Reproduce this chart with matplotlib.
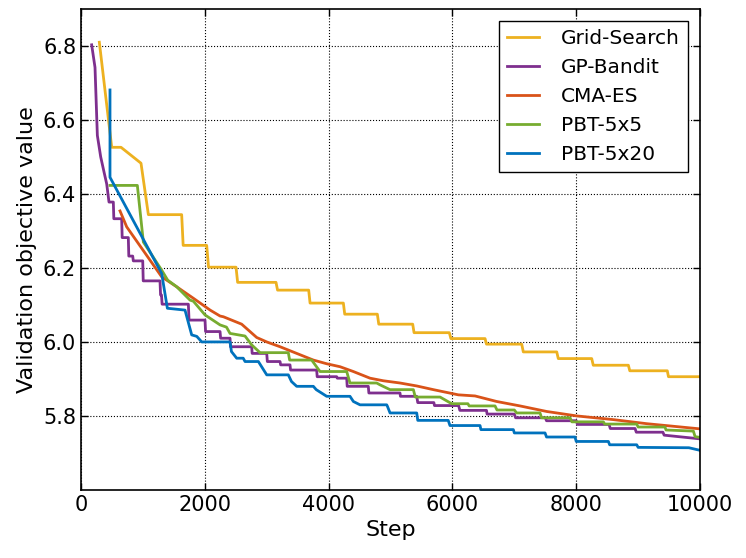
import matplotlib
matplotlib.use("Agg")
import matplotlib.pyplot as plt

# values (steps are given as repeated x)
grid_x = [296, 496, 646, 969, 1088, 1626, 1650, 2030, 2060, 2504, 2530, 3150, 3175,
          3678, 3700, 4238, 4260, 4787, 4810, 5358, 5380, 5950, 5975, 6527, 6550,
          7119, 7145, 7685, 7710, 8250, 8275, 8842, 8865, 9471, 9490, 10000]
grid_y = [6.81, 6.526, 6.526, 6.483, 6.344, 6.344, 6.261, 6.261, 6.202, 6.202, 6.161,
          6.161, 6.140, 6.140, 6.105, 6.105, 6.075, 6.075, 6.048, 6.048, 6.025,
          6.025, 6.009, 6.009, 5.994, 5.994, 5.973, 5.973, 5.955, 5.955, 5.937,
          5.937, 5.922, 5.922, 5.906, 5.906]

gp_x = [172, 226, 264, 318, 372, 415, 452,
        522, 530, 657, 665, 764, 772, 835, 845, 997, 1005,
        1276, 1285, 1300, 1310, 1734, 1745, 2003, 2012, 2246, 2255,
        2407, 2415, 2757, 2765, 3000, 3010, 3215, 3225, 3376, 3385,
        3807, 3815, 4130, 4140, 4292, 4300, 4641, 4650, 5153, 5160,
        5423, 5440, 5700, 5710, 6100, 6120, 6550, 6560, 7000, 7020,
        7500, 7520, 8000, 8020, 8530, 8550, 8950, 8970, 9400, 9420,
        10000]
gp_y = [6.803, 6.742, 6.558, 6.50, 6.459, 6.427, 6.378,
        6.378, 6.333, 6.333, 6.282, 6.282, 6.232, 6.232, 6.219, 6.219, 6.165,
        6.165, 6.127, 6.127, 6.102, 6.102, 6.059, 6.059, 6.028, 6.028, 6.010,
        6.010, 5.987, 5.987, 5.969, 5.969, 5.947, 5.947, 5.938, 5.938, 5.924,
        5.924, 5.906, 5.906, 5.902, 5.902, 5.880, 5.880, 5.862, 5.862, 5.853,
        5.853, 5.836, 5.836, 5.828, 5.828, 5.815, 5.815, 5.805, 5.805, 5.795,
        5.795, 5.787, 5.787, 5.777, 5.777, 5.766, 5.766, 5.756, 5.756, 5.748,
        5.738]

cma_x = [630, 738, 1303, 1546, 1815, 2086, 2246, 2300, 2595, 2838, 3000, 3215, 3484,
         3753, 3969, 4184, 4399, 4669, 4884, 5153, 5423, 5692, 6095, 6365, 6715,
         7092, 7523, 8008, 8600, 9139, 10000]
cma_y = [6.354, 6.311, 6.176, 6.149, 6.118, 6.086, 6.070, 6.068, 6.048, 6.012, 6.0,
         5.987, 5.969, 5.951, 5.941, 5.933, 5.920, 5.902, 5.895, 5.889, 5.881,
         5.871, 5.857, 5.854, 5.839, 5.827, 5.812, 5.800, 5.790, 5.779, 5.765]

pbt5_x = [468, 910, 1007, 1303, 1400, 1546, 1761, 1815, 2003, 2246, 2350, 2407,
          2649, 2757, 2892, 3000, 3349, 3370, 3726, 3861, 4292, 4345, 4776, 4830,
          4992, 5369, 5400, 5800, 5988, 6250, 6270, 6688, 6720, 7000, 7038, 7415,
          7440, 7900, 7930, 8438, 8460, 8977, 9000, 9434, 9450, 9892, 9920, 10000]
pbt5_y = [6.423, 6.423, 6.27, 6.194, 6.167, 6.149, 6.113, 6.110, 6.073, 6.046,
          6.040, 6.023, 6.016, 5.992, 5.971, 5.971, 5.971, 5.951, 5.951, 5.920,
          5.920, 5.889, 5.889, 5.884, 5.871, 5.871, 5.851, 5.851, 5.833, 5.833,
          5.827, 5.827, 5.816, 5.816, 5.808, 5.808, 5.795, 5.795, 5.784, 5.784,
          5.778, 5.778, 5.770, 5.770, 5.762, 5.759, 5.744, 5.742]

pbt20_x = [468, 468, 1303, 1395, 1680, 1788, 1870, 1950, 2407, 2430, 2515, 2620,
           2650, 2865, 3000, 3349, 3400, 3484, 3753, 3800, 3969, 4345, 4400, 4507,
           4938, 4950, 4992, 5423, 5440, 5932, 5960, 6446, 6460, 6984, 7000, 7496,
           7520, 7980, 8000, 8519, 8540, 8977, 9000, 9820, 10000]
pbt20_y = [6.681, 6.445, 6.185, 6.091, 6.086, 6.019, 6.015, 6.0, 6.0, 5.974,
           5.956, 5.956, 5.947, 5.947, 5.911, 5.911, 5.893, 5.880, 5.880, 5.871,
           5.853, 5.853, 5.839, 5.830, 5.830, 5.826, 5.808, 5.808, 5.788, 5.788,
           5.774, 5.774, 5.763, 5.763, 5.754, 5.754, 5.743, 5.743, 5.731, 5.731,
           5.722, 5.722, 5.715, 5.714, 5.707]

names = ["Grid-Search", "GP-Bandit", "CMA-ES", "PBT-5x5", "PBT-5x20"]
colors = ["#EDB120", "#7E2F8E", "#D95319", "#77AC30", "#0072BD"]

plt.rcParams["xtick.direction"] = "in"
plt.rcParams["ytick.direction"] = "in"
plt.rcParams["xtick.top"] = True
plt.rcParams["ytick.right"] = True

fig = plt.figure(figsize=(7.46, 5.58), dpi=100)
ax = fig.add_axes([0.1086, 0.122, 0.8298, 0.862])

series = [(grid_x, grid_y), (gp_x, gp_y), (cma_x, cma_y), (pbt5_x, pbt5_y), (pbt20_x, pbt20_y)]
for (xs, ys), name, c in zip(series, names, colors):
    ax.plot(xs, ys, color=c, lw=2, label=name)

ax.set_xlim(0, 10000)
ax.set_ylim(5.6, 6.9)
ax.set_xticks([0, 2000, 4000, 6000, 8000, 10000])
ax.set_yticks([5.8, 6.0, 6.2, 6.4, 6.6, 6.8])
ax.grid(True, color="black", ls=":", lw=0.8)
ax.tick_params(labelsize=15, length=5, width=1)
for s in ax.spines.values():
    s.set_linewidth(1.2)
ax.set_xlabel("Step", fontsize=16)
ax.set_ylabel("Validation objective value", fontsize=16)

leg = ax.legend(loc="upper right", fontsize=14.5, fancybox=False, framealpha=1,
                edgecolor="black", borderaxespad=0.6, handlelength=1.6,
                handletextpad=1.1, labelspacing=0.5)
leg.get_frame().set_linewidth(1.0)

fig.savefig("out.png", dpi=100)
